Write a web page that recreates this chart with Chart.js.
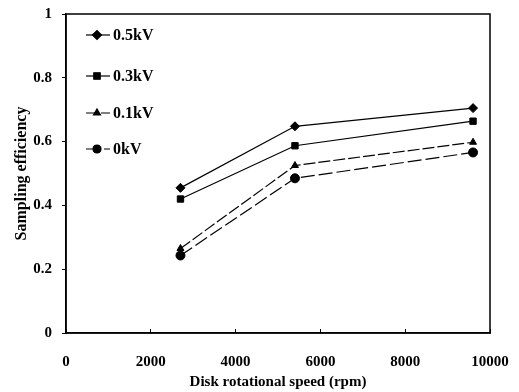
<!DOCTYPE html>
<html>
<head>
<meta charset="utf-8">
<script src="https://cdn.jsdelivr.net/npm/chart.js@4/dist/chart.umd.min.js"></script>
<style>
  body { margin: 0; background: #fff; }
  #wrap { width: 519px; height: 392px; }
</style>
</head>
<body>
<div id="wrap"><canvas id="myChart" width="519" height="392"></canvas></div>
<script>
// datos
var speeds = [2700, 5400, 9600];
var kv05 = [0.455, 0.648, 0.705];
var kv03 = [0.420, 0.587, 0.664];
var kv01 = [0.265, 0.525, 0.598];
var kv00 = [0.243, 0.485, 0.566];
var seriesNames = ['0.5kV', '0.3kV', '0.1kV', '0kV'];
var xTicks = [0, 2000, 4000, 6000, 8000, 10000];
var yTicks = [0, 0.2, 0.4, 0.6, 0.8, 1];

var fontFam = '"Liberation Serif", "DejaVu Serif", serif';

function toPoints(ys) {
    return speeds.map(function (s, i) { return { x: s, y: ys[i] }; });
}

function makeSet(label, ys, style, radius, dash) {
    return {
        label: label,
        data: toPoints(ys),
        borderColor: '#000',
        backgroundColor: '#000',
        borderWidth: 1.2,
        borderDash: dash,
        pointStyle: style,
        pointRadius: radius,
        pointBorderWidth: 1,
        tension: 0
    };
}

// leyenda dentro del area de la grafica
var legendInside = {
    id: 'legendInside',
    afterDraw: function (chart) {
        var ctx = chart.ctx;
        var rows = [35, 76, 113, 149];
        chart.data.datasets.forEach(function (ds, i) {
            var y = rows[i];
            ctx.save();
            ctx.strokeStyle = '#000';
            ctx.lineWidth = 1.2;
            ctx.setLineDash(ds.borderDash || []);
            ctx.beginPath();
            ctx.moveTo(86, y);
            ctx.lineTo(110, y);
            ctx.stroke();
            ctx.setLineDash([]);
            Chart.helpers.drawPoint(ctx, {
                pointStyle: ds.pointStyle,
                radius: ds.pointStyle === 'circle' ? 4 : ds.pointRadius,
                borderWidth: 1
            }, 97, y);
            ctx.fillStyle = '#000';
            ctx.fill();
            ctx.font = 'bold 16px ' + fontFam;
            ctx.textBaseline = 'middle';
            ctx.fillText(ds.label, 113, y + 1);
            ctx.restore();
        });
    }
};

var frameBox = {
    id: 'frameBox',
    beforeDatasetsDraw: function (chart) {
        var a = chart.chartArea;
        var ctx = chart.ctx;
        ctx.save();
        ctx.strokeStyle = '#000';
        ctx.lineWidth = 1.5;
        ctx.strokeRect(a.left, a.top, a.right - a.left, a.bottom - a.top);
        ctx.restore();
    }
};

var ctx = document.getElementById('myChart');
var myChart = new Chart(ctx, {
    type: 'line',
    data: {
        datasets: [
            makeSet(seriesNames[0], kv05, 'rectRot', 4.5, []),
            makeSet(seriesNames[1], kv03, 'rect', 4.5, []),
            makeSet(seriesNames[2], kv01, 'triangle', 4, [12, 3]),
            makeSet(seriesNames[3], kv00, 'circle', 4.5, [14, 4])
        ]
    },
    options: {
        responsive: false,
        animation: false,
        layout: { padding: { top: 14, right: 29, bottom: 0, left: 0 } },
        plugins: {
            legend: { display: false },
            tooltip: { enabled: false }
        },
        scales: {
            x: {
                type: 'linear',
                min: 0,
                max: 10000,
                afterBuildTicks: function (axis) {
                    axis.ticks = xTicks.map(function (v) { return { value: v }; });
                },
                afterFit: function (axis) {
                    axis.height = 59;
                    axis.paddingLeft = 0;
                    axis.paddingRight = 0;
                },
                ticks: {
                    color: '#000',
                    font: { family: fontFam, size: 15, weight: 'bold' },
                    maxRotation: 0,
                    padding: 24,
                    callback: function (v) { return String(v); }
                },
                grid: { display: true, drawOnChartArea: false, drawTicks: true, tickLength: -4, color: '#000' },
                border: { color: '#000', width: 1.5 },
                title: {
                    display: true,
                    text: 'Disk rotational speed (rpm)',
                    color: '#000',
                    font: { family: fontFam, size: 15, weight: 'bold' },
                    padding: { top: 0, bottom: 1 }
                }
            },
            y: {
                type: 'linear',
                min: 0,
                max: 1,
                afterBuildTicks: function (axis) {
                    axis.ticks = yTicks.map(function (v) { return { value: v }; });
                },
                afterFit: function (axis) {
                    axis.width = 66;
                    axis.paddingTop = 0;
                    axis.paddingBottom = 0;
                },
                ticks: {
                    color: '#000',
                    font: { family: fontFam, size: 15, weight: 'bold' },
                    padding: 10,
                    callback: function (v) { return String(v); }
                },
                grid: { display: true, drawOnChartArea: false, drawTicks: true, tickLength: 4, color: '#000' },
                border: { color: '#000', width: 1.5 },
                title: {
                    display: true,
                    text: 'Sampling efficiency',
                    color: '#000',
                    font: { family: fontFam, size: 16, weight: 'bold' },
                    padding: { top: 12, bottom: 0 }
                }
            }
        }
    },
    plugins: [frameBox, legendInside]
});
</script>
</body>
</html>
